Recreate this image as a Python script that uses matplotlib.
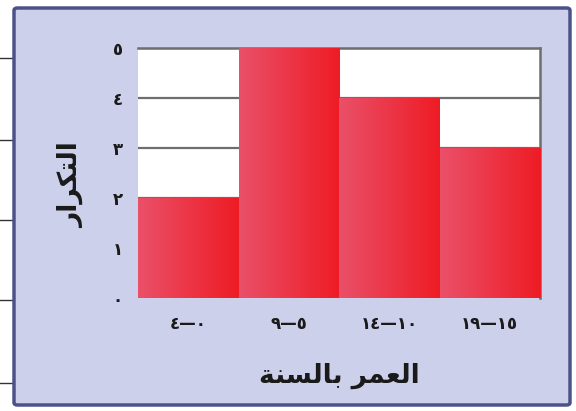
"""Histogram of ages (Arabic textbook style) with gradient bars."""

import numpy as np
import matplotlib.pyplot as plt
from matplotlib.patches import FancyBboxPatch
from matplotlib.lines import Line2D
from matplotlib.colors import LinearSegmentedColormap

# data
bin_starts = [0, 5, 10, 15]
bin_ends = [4, 9, 14, 19]
counts = [2, 5, 4, 3]
y_ticks = [0, 1, 2, 3, 4, 5]
x_title = "العمر بالسنة"
y_title = "التكرار"

AR_DIGITS = "٠١٢٣٤٥٦٧٨٩"

# isolated, final, initial, medial
FORMS = {
    "ا": ("\uFE8D", "\uFE8E", None, None),
    "ب": ("\uFE8F", "\uFE90", "\uFE91", "\uFE92"),
    "ة": ("\uFE93", "\uFE94", None, None),
    "ت": ("\uFE95", "\uFE96", "\uFE97", "\uFE98"),
    "ر": ("\uFEAD", "\uFEAE", None, None),
    "س": ("\uFEB1", "\uFEB2", "\uFEB3", "\uFEB4"),
    "ع": ("\uFEC9", "\uFECA", "\uFECB", "\uFECC"),
    "ك": ("\uFED9", "\uFEDA", "\uFEDB", "\uFEDC"),
    "ل": ("\uFEDD", "\uFEDE", "\uFEDF", "\uFEE0"),
    "م": ("\uFEE1", "\uFEE2", "\uFEE3", "\uFEE4"),
    "ن": ("\uFEE5", "\uFEE6", "\uFEE7", "\uFEE8"),
}


def ar_num(n):
    return "".join(AR_DIGITS[int(c)] for c in str(n))


def shape(text):
    """Tiny arabic shaper: contextual forms, then visual (reversed) order."""
    out = []
    for i, ch in enumerate(text):
        if ch not in FORMS:
            out.append(ch)
            continue
        prev = text[i - 1] if i > 0 else " "
        nxt = text[i + 1] if i + 1 < len(text) else " "
        joins_prev = prev in FORMS and FORMS[prev][2] is not None
        joins_next = nxt in FORMS and FORMS[ch][2] is not None
        iso, fin, ini, med = FORMS[ch]
        if joins_prev and joins_next:
            out.append(med)
        elif joins_prev:
            out.append(fin)
        elif joins_next:
            out.append(ini)
        else:
            out.append(iso)
    return "".join(out[::-1])


fig = plt.figure(figsize=(5.76, 4.11), dpi=100)
fig.patch.set_facecolor("white")

# lavender panel
panel = FancyBboxPatch((14 / 576, 6 / 411), 556 / 576, 397 / 411,
                       boxstyle="round,pad=0,rounding_size=0.006",
                       transform=fig.transFigure, facecolor="#cdd0eb",
                       edgecolor="#4d5189", linewidth=2.5, zorder=-2)
fig.patches.append(panel)
for yp in [58, 140, 220, 300, 383]:
    fig.lines.append(Line2D([0, 13 / 576], [1 - yp / 411] * 2, zorder=-2,
                            transform=fig.transFigure, color="#333333", lw=1))

ax = fig.add_axes([138 / 576, 113 / 411, 402 / 576, 250 / 411])
ax.set_facecolor("white")

x = np.arange(len(counts))
bars = ax.bar(x, counts, width=1.0, color="none", edgecolor="none", zorder=3)

cmap = LinearSegmentedColormap.from_list("bar", ["#ea5069", "#ee1c25"])
grad = np.linspace(0, 1, 128).reshape(1, -1)
for b in bars:
    bx, by = b.get_x(), b.get_y()
    im = ax.imshow(grad, cmap=cmap, aspect="auto", zorder=3,
                   extent=(bx, bx + b.get_width(), by, by + b.get_height()))
    im.set_clip_path(b)

ax.set_xlim(-0.5, len(counts) - 0.5)
ax.set_ylim(0, 5)
ax.yaxis.grid(True, color="#6e6e6e", lw=1.6, zorder=1)
ax.set_axisbelow(True)

for side in ["left", "bottom"]:
    ax.spines[side].set_visible(False)
for side in ["top", "right"]:
    ax.spines[side].set_color("#6e6e6e")
    ax.spines[side].set_linewidth(1.8)

ax.set_yticks(y_ticks)
ax.set_yticklabels([ar_num(v) for v in y_ticks])
ax.set_xticks(x)
ax.set_xticklabels([f"{ar_num(hi)}—{ar_num(lo)}"
                    for lo, hi in zip(bin_starts, bin_ends)])
ax.tick_params(length=0, labelsize=12, colors="#1a1a1a")
ax.tick_params(axis="y", pad=11)
ax.tick_params(axis="x", pad=12)
for lab in ax.get_xticklabels() + ax.get_yticklabels():
    lab.set_fontweight("bold")

ax.set_xlabel(shape(x_title), fontsize=19, fontweight="bold",
              color="#1a1a1a", labelpad=22)
ax.set_ylabel(shape(y_title), fontsize=19, fontweight="bold",
              color="#1a1a1a")
ax.yaxis.set_label_coords(-0.135, 0.45)

fig.savefig("out.png", dpi=100)
